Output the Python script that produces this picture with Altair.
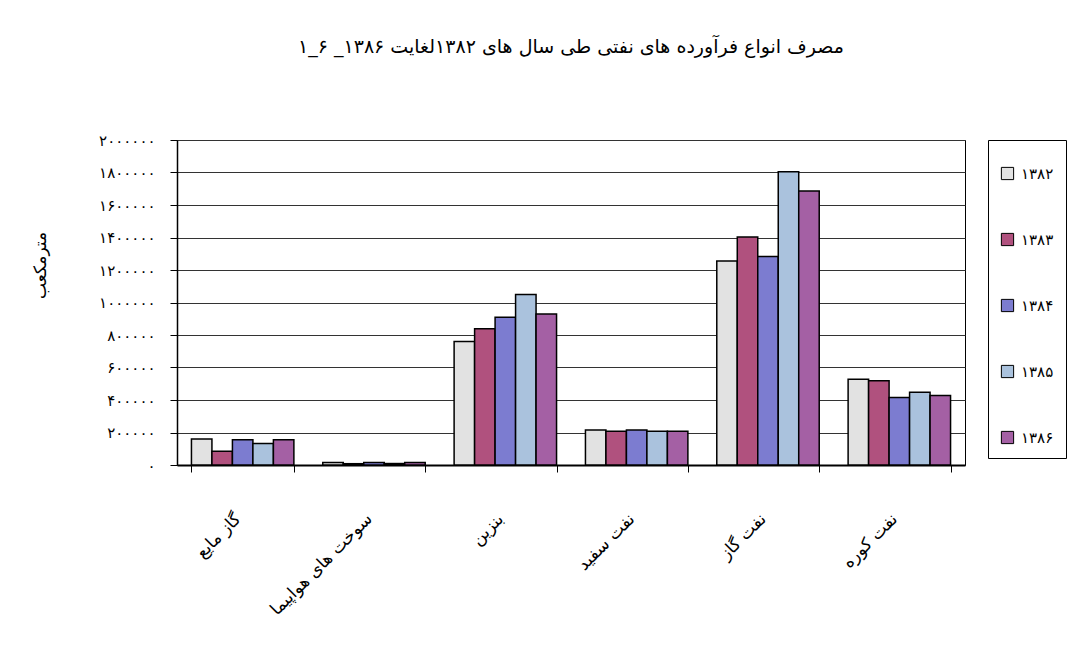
import altair as alt
import pandas as pd

categories = ["گاز مایع", "سوخت های هواپیما", "بنزین", "نفت سفید", "نفت گاز", "نفت کوره"]
years = ["۱۳۸۲", "۱۳۸۳", "۱۳۸۴", "۱۳۸۵", "۱۳۸۶"]

v1382 = [160000, 15000, 760000, 215000, 1255000, 528000]
v1383 = [85000, 8000, 838000, 208000, 1403000, 519000]
v1384 = [155000, 15000, 910000, 215000, 1283000, 416000]
v1385 = [133000, 9000, 1050000, 207000, 1805000, 447000]
v1386 = [155000, 15000, 930000, 207000, 1686000, 427000]

y_tick_values = [0, 200000, 400000, 600000, 800000, 1000000, 1200000, 1400000, 1600000, 1800000, 2000000]
y_tick_labels = ["۰", "۲۰۰۰۰۰", "۴۰۰۰۰۰", "۶۰۰۰۰۰", "۸۰۰۰۰۰", "۱۰۰۰۰۰۰",
                 "۱۲۰۰۰۰۰", "۱۴۰۰۰۰۰", "۱۶۰۰۰۰۰", "۱۸۰۰۰۰۰", "۲۰۰۰۰۰۰"]

title_text = "۱_۶ _مصرف انواع فرآورده های نفتی طی سال های ۱۳۸۲لغایت ۱۳۸۶"
y_title = "مترمکعب"

colors = ["#e2e2e2", "#b0517e", "#7c7cd0", "#aac2dd", "#a460a4"]

series = [v1382, v1383, v1384, v1385, v1386]
rows = []
for yr, vals in zip(years, series):
    for c, v in zip(categories, vals):
        rows.append({"category": c, "year": yr, "value": v})
df = pd.DataFrame(rows)

label_expr = ""
for val, lab in zip(y_tick_values, y_tick_labels):
    label_expr += f"datum.value == {val} ? '{lab}' : "
label_expr += "''"

FONT = "DejaVu Sans"

chart = alt.Chart(df).mark_bar(stroke="black", strokeWidth=1.5).encode(
    x=alt.X("category:N", sort=categories,
            scale=alt.Scale(paddingInner=0.22, paddingOuter=0.11),
            axis=alt.Axis(title=None, labelAngle=-45, labelAlign="right", labelBaseline="middle",
                          labelPadding=44, labelOffset=-5, tickBand="extent", tickSize=7, tickColor="black",
                          domainColor="black", domainWidth=2, labelFont=FONT, labelFontSize=17,
                          labelColor="black", grid=False)),
    xOffset=alt.XOffset("year:N", sort=years, scale=alt.Scale(paddingInner=0, paddingOuter=0)),
    y=alt.Y("value:Q", scale=alt.Scale(domain=[0, 2000000], nice=False),
            axis=alt.Axis(values=y_tick_values, labelExpr=label_expr, title=y_title,
                          titleFont=FONT, titleFontSize=17, titleFontWeight="normal", titleColor="black",
                          titleX=-137, titleY=125, titleAngle=270, titleAlign="center",
                          titleBaseline="middle",
                          labelFont=FONT, labelFontSize=15, labelColor="black", labelPadding=15,
                          tickSize=7, tickColor="black", domainColor="black", domainWidth=1.5,
                          grid=True, gridColor="#333333", gridWidth=1)),
    color=alt.Color("year:N", sort=years, scale=alt.Scale(domain=years, range=colors),
                    legend=alt.Legend(title=" ", titleFontSize=12, titlePadding=2,
                                      orient="none", legendX=811, legendY=0,
                                      strokeColor="black", fillColor="white", padding=12,
                                      symbolType="square", symbolSize=150, symbolStrokeColor="black",
                                      symbolStrokeWidth=1, symbolOpacity=1,
                                      labelFont=FONT, labelFontSize=15, labelColor="black",
                                      labelOffset=6, rowPadding=49)),
).properties(
    width=788, height=325,
    title=alt.TitleParams(title_text, font=FONT, fontSize=19, fontWeight="normal", color="black",
                          anchor="middle", offset=76),
    autosize=alt.AutoSizeParams(type="none"),
    padding={"left": 169, "top": 132, "right": 102, "bottom": 180},
    background="white",
).configure_view(stroke="black", strokeWidth=1)

chart.save("out.html", embed_options={"renderer": "svg", "actions": False})
